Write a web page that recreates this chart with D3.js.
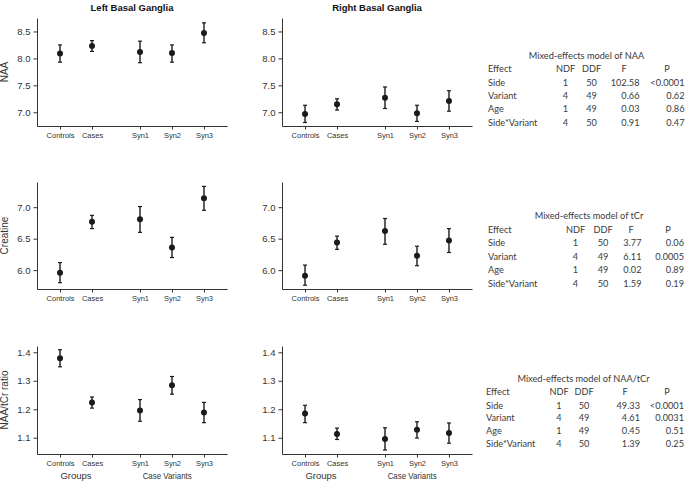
<!DOCTYPE html>
<html>
<head>
<meta charset="utf-8">
<script src="https://cdn.jsdelivr.net/npm/d3@7"></script>
<style>
  body { margin: 0; background: #fff; }
  text { font-family: "Liberation Sans", Arial, sans-serif; }
  .tbl text { font-family: Lato, "Open Sans", sans-serif; }
</style>
</head>
<body>
<svg id="chart" width="685" height="484"></svg>
<script>
// groups / variants along x
var categories = ['Controls', 'Cases', 'Syn1', 'Syn2', 'Syn3'];
var catPos = [0, 1, 2.5, 3.5, 4.5];

// NAA
var naaLeft = [8.09, 8.23, 8.12, 8.10, 8.47];
var naaLeftLo = [7.93, 8.13, 7.92, 7.93, 8.29];
var naaLeftHi = [8.25, 8.33, 8.32, 8.25, 8.66];
var naaRight = [6.97, 7.15, 7.27, 6.98, 7.21];
var naaRightLo = [6.81, 7.04, 7.07, 6.83, 7.02];
var naaRightHi = [7.13, 7.25, 7.47, 7.13, 7.40];
var naaTicks = [7.0, 7.5, 8.0, 8.5];

// creatine
var crLeft = [5.96, 6.77, 6.81, 6.36, 7.14];
var crLeftLo = [5.80, 6.66, 6.60, 6.20, 6.95];
var crLeftHi = [6.12, 6.87, 7.01, 6.52, 7.33];
var crRight = [5.91, 6.44, 6.62, 6.23, 6.47];
var crRightLo = [5.76, 6.33, 6.41, 6.07, 6.28];
var crRightHi = [6.08, 6.54, 6.82, 6.38, 6.66];
var crTicks = [6.0, 6.5, 7.0];

// NAA/tCr ratio
var ratioLeft = [1.379, 1.224, 1.196, 1.284, 1.189];
var ratioLeftLo = [1.349, 1.204, 1.158, 1.253, 1.153];
var ratioLeftHi = [1.409, 1.243, 1.234, 1.315, 1.224];
var ratioRight = [1.185, 1.113, 1.096, 1.128, 1.117];
var ratioRightLo = [1.153, 1.094, 1.057, 1.099, 1.081];
var ratioRightHi = [1.214, 1.134, 1.135, 1.156, 1.152];
var ratioTicks = [1.1, 1.2, 1.3, 1.4];

// mixed-effects tables
var tableHeader = ['Effect', 'NDF', 'DDF', 'F', 'P'];
var effects = ['Side', 'Variant', 'Age', 'Side*Variant'];
var ndf = ['1', '4', '1', '4'];
var ddf = ['50', '49', '49', '50'];
var naaF = ['102.58', '0.66', '0.03', '0.91'];
var naaP = ['<0.0001', '0.62', '0.86', '0.47'];
var tcrF = ['3.77', '6.11', '0.02', '1.59'];
var tcrP = ['0.06', '0.0005', '0.89', '0.19'];
var ratioF = ['49.33', '4.61', '0.45', '1.39'];
var ratioP = ['<0.0001', '0.0031', '0.51', '0.25'];

var svg = d3.select('#chart');
var ink = '#1a1a1a';

var cols = [{ x0: 37, x1: 227, title: 'Left Basal Ganglia' },
            { x0: 282, x1: 472, title: 'Right Basal Ganglia' }];
var rows = [
    { y0: 18, y1: 126, label: 'NAA', domain: [6.745, 8.75], ticks: naaTicks, fmt: '.1f',
      series: [[naaLeft, naaLeftLo, naaLeftHi], [naaRight, naaRightLo, naaRightHi]] },
    { y0: 182, y1: 289, label: 'Creatine', domain: [5.70, 7.40], ticks: crTicks, fmt: '.1f',
      series: [[crLeft, crLeftLo, crLeftHi], [crRight, crRightLo, crRightHi]] },
    { y0: 346, y1: 454, label: 'NAA/tCr ratio', domain: [1.043, 1.422], ticks: ratioTicks, fmt: '.1f',
      series: [[ratioLeft, ratioLeftLo, ratioLeftHi], [ratioRight, ratioRightLo, ratioRightHi]] }
];

rows.forEach(function (row, ri) {
    cols.forEach(function (col, ci) {
        var x = d3.scaleLinear().domain([-0.72, 5.22]).range([col.x0, col.x1]);
        var y = d3.scaleLinear().domain(row.domain).range([row.y1, row.y0]);
        var g = svg.append('g');
        var s = row.series[ci];

        var ax = g.append('g').attr('transform', 'translate(' + col.x0 + ',0)')
            .call(d3.axisLeft(y).tickValues(row.ticks).tickFormat(d3.format(row.fmt))
                .tickSize(3.5).tickSizeOuter(0).tickPadding(3));
        ax.selectAll('text').style('font-size', '9.5px').attr('fill', '#333');

        var bx = g.append('g').attr('transform', 'translate(0,' + row.y1 + ')')
            .call(d3.axisBottom(x).tickValues(catPos).tickFormat(function (d, i) { return categories[i]; })
                .tickSize(3.5).tickSizeOuter(0).tickPadding(3));
        bx.selectAll('text').style('font-size', '7.5px').attr('fill', '#333');
        g.selectAll('.domain, .tick line').attr('stroke', '#333');

        var pts = categories.map(function (c, i) {
            return { p: catPos[i], m: s[0][i], lo: s[1][i], hi: s[2][i] };
        });
        var eb = g.selectAll('.eb').data(pts).enter().append('g');
        eb.append('line').attr('x1', function (d) { return x(d.p); }).attr('x2', function (d) { return x(d.p); })
            .attr('y1', function (d) { return y(d.lo); }).attr('y2', function (d) { return y(d.hi); })
            .attr('stroke', ink).attr('stroke-width', 1.4);
        ['lo', 'hi'].forEach(function (k) {
            eb.append('line').attr('x1', function (d) { return x(d.p) - 2; }).attr('x2', function (d) { return x(d.p) + 2; })
                .attr('y1', function (d) { return y(d[k]); }).attr('y2', function (d) { return y(d[k]); })
                .attr('stroke', ink).attr('stroke-width', 1.2);
        });
        eb.append('circle').attr('cx', function (d) { return x(d.p); }).attr('cy', function (d) { return y(d.m); })
            .attr('r', 3).attr('fill', ink);

        if (ci === 0) {
            var cy = (row.y0 + row.y1) / 2;
            g.append('text').attr('transform', 'translate(8,' + cy + ') rotate(-90)')
                .attr('text-anchor', 'middle').style('font-size', '10px').attr('fill', '#333').text(row.label);
        }
        if (ri === 0) {
            g.append('text').attr('x', (col.x0 + col.x1) / 2).attr('y', 10.5).attr('text-anchor', 'middle')
                .style('font-size', '9.5px').style('font-weight', 'bold').attr('fill', '#111').text(col.title);
        }
        if (ri === 2) {
            g.append('text').attr('x', x(0.5)).attr('y', 479).attr('text-anchor', 'middle')
                .style('font-size', '9.5px').attr('fill', '#333').text('Groups');
            g.append('text').attr('x', x(3.35)).attr('y', 479).attr('text-anchor', 'middle')
                .attr('textLength', 49).attr('lengthAdjust', 'spacingAndGlyphs')
                .style('font-size', '9.5px').attr('fill', '#333').text('Case Variants');
        }
    });
});

// tables
var tables = [
    { title: 'Mixed-effects model of NAA', F: naaF, P: naaP, ty: 59, ry: [72.3, 85.6, 99, 112.3, 125.6],
      c: [488, 565.5, 591.5, 624, 639.5, 667, 684.5], tx: 586.5 },
    { title: 'Mixed-effects model of tCr', F: tcrF, P: tcrP, ty: 219, ry: [232.6, 246.3, 260, 273.3, 286.6],
      c: [488, 575.5, 603, 631, 641.5, 668, 684], tx: 589 },
    { title: 'Mixed-effects model of NAA/tCr', F: ratioF, P: ratioP, ty: 382.3, ry: [395.3, 409, 421.3, 434.3, 447.3],
      c: [486, 559, 584, 625, 640, 667, 684], tx: 583.5 }
];

tables.forEach(function (t) {
    var g = svg.append('g').attr('class', 'tbl').style('font-size', '9.2px').attr('fill', '#3a3a3a');
    g.append('text').attr('x', t.tx).attr('y', t.ty).attr('text-anchor', 'middle').text(t.title);
    var hx = [t.c[0], t.c[1], t.c[2], t.c[3], t.c[5]];
    var ha = ['start', 'middle', 'middle', 'middle', 'middle'];
    tableHeader.forEach(function (h, i) {
        g.append('text').attr('x', hx[i]).attr('y', t.ry[0]).attr('text-anchor', ha[i]).text(h);
    });
    effects.forEach(function (e, i) {
        var yy = t.ry[i + 1];
        g.append('text').attr('x', t.c[0]).attr('y', yy).text(e);
        g.append('text').attr('x', t.c[1]).attr('y', yy).attr('text-anchor', 'middle').text(ndf[i]);
        g.append('text').attr('x', t.c[2]).attr('y', yy).attr('text-anchor', 'middle').text(ddf[i]);
        g.append('text').attr('x', t.c[4]).attr('y', yy).attr('text-anchor', 'end').text(t.F[i]);
        g.append('text').attr('x', t.c[6]).attr('y', yy).attr('text-anchor', 'end').text(t.P[i]);
    });
});
</script>
</body>
</html>
